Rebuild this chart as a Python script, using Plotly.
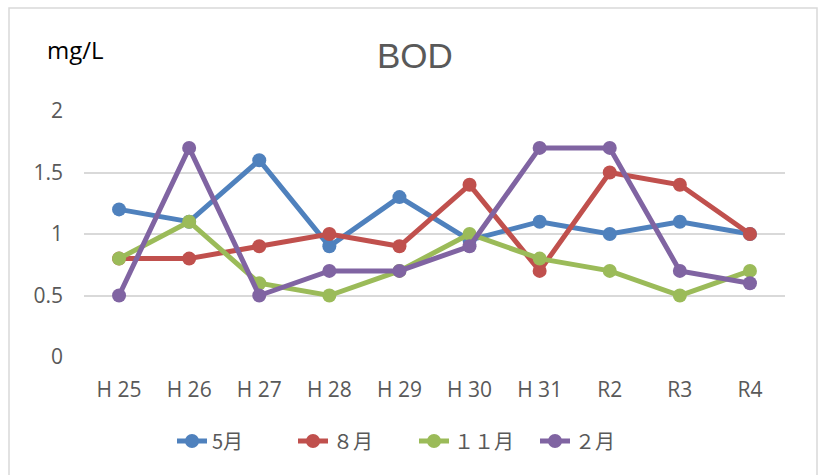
import plotly.graph_objects as go

years = ["H 25", "H 26", "H 27", "H 28", "H 29", "H 30", "H 31", "R2", "R3", "R4"]
may = [1.2, 1.1, 1.6, 0.9, 1.3, 0.95, 1.1, 1.0, 1.1, 1.0]
aug = [0.8, 0.8, 0.9, 1.0, 0.9, 1.4, 0.7, 1.5, 1.4, 1.0]
nov = [0.8, 1.1, 0.6, 0.5, 0.7, 1.0, 0.8, 0.7, 0.5, 0.7]
feb = [0.5, 1.7, 0.5, 0.7, 0.7, 0.9, 1.7, 1.7, 0.7, 0.6]

series = [
    ("5月", may, "#4f81bd"),
    ("８月", aug, "#c0504d"),
    ("１１月", nov, "#9bbb59"),
    ("２月", feb, "#8064a2"),
]

fig = go.Figure()
for name, vals, color in series:
    fig.add_trace(go.Scatter(
        x=years, y=vals, name=name, mode="lines+markers",
        line=dict(color=color, width=5),
        marker=dict(color=color, size=14),
    ))

L, R, T, B = 84, 40, 111, 118
PW, PH = 825 - L - R, 475 - T - B

fig.update_layout(
    width=825, height=475,
    margin=dict(l=L, r=R, t=T, b=B, autoexpand=False),
    paper_bgcolor="white", plot_bgcolor="white",
    font=dict(family="Open Sans", color="#595959", size=20),
    showlegend=True,
    legend=dict(orientation="h", x=(172 - L) / PW, xanchor="left", y=(357 - 441) / PH, yanchor="middle",
                font=dict(family="Noto Sans CJK JP", size=20, color="#595959"),
                entrywidth=76, entrywidthmode="pixels", tracegroupgap=0),
    xaxis=dict(type="category", range=[-0.5, len(years) - 0.5], showgrid=False, zeroline=False,
               showline=False, automargin=False, ticks="",
               tickfont=dict(family="Open Sans", size=21, color="#595959"), ticklabelstandoff=18),
    yaxis=dict(range=[0, 2], tickvals=[0, 0.5, 1, 1.5, 2], ticktext=["0", "0.5", "1", "1.5", "2"],
               showgrid=True, gridcolor="#d9d9d9", gridwidth=1.5, zeroline=False, automargin=False,
               showline=False, ticks="", tickfont=dict(family="Open Sans", size=21, color="#595959"),
               ticklabelstandoff=20),
)

fig.add_annotation(text="BOD", xref="paper", yref="paper", x=(415 - L) / PW, y=(357 - 55) / PH,
                   xanchor="center", yanchor="middle",
                   showarrow=False, font=dict(family="Liberation Sans", size=35, color="#595959"))
fig.add_annotation(text="mg/L", xref="paper", yref="paper", x=(75 - L) / PW, y=(357 - 50) / PH,
                   xanchor="center", yanchor="middle",
                   showarrow=False, font=dict(family="Open Sans", size=24, color="#000000"))

# outer chart frame
fig.add_shape(type="rect", xref="paper", yref="paper",
              x0=(9 - L) / PW, x1=(817 - L) / PW, y0=-0.7, y1=(357 - 8) / PH,
              line=dict(color="#d9d9d9", width=1.5), layer="below")

fig.write_html("out.html")
